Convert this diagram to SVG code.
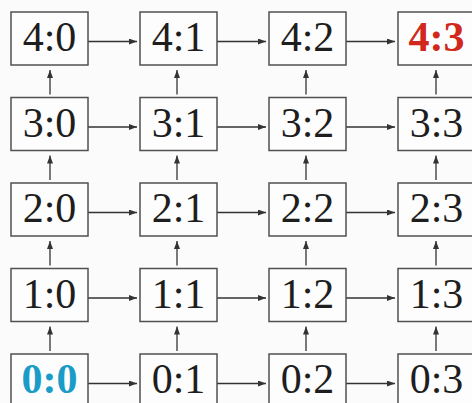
<svg xmlns="http://www.w3.org/2000/svg" width="472" height="403" viewBox="0 0 472 403">
<style>
.b{fill:#fdfdfd;stroke:#505050;stroke-width:1.5}
.t{font-family:"Liberation Serif",serif;font-size:42px;fill:#1e1e1e;text-anchor:middle}
.c line{stroke:#333;stroke-width:1.3;marker-end:url(#a)}
</style>
<defs><marker id="a" viewBox="0 0 8 6" refX="8" refY="3" markerWidth="8" markerHeight="6" markerUnits="userSpaceOnUse" orient="auto"><path d="M0,0L8,3L0,6z" fill="#333"/></marker></defs>
<rect width="472" height="403" fill="#fbfbfb"/>
<g class="c">
<line x1="88" y1="41.5" x2="137" y2="41.5"/><line x1="217" y1="41.5" x2="266" y2="41.5"/><line x1="346" y1="41.5" x2="395" y2="41.5"/>
<line x1="88" y1="127" x2="137" y2="127"/><line x1="217" y1="127" x2="266" y2="127"/><line x1="346" y1="127" x2="395" y2="127"/>
<line x1="88" y1="212.5" x2="137" y2="212.5"/><line x1="217" y1="212.5" x2="266" y2="212.5"/><line x1="346" y1="212.5" x2="395" y2="212.5"/>
<line x1="88" y1="298" x2="137" y2="298"/><line x1="217" y1="298" x2="266" y2="298"/><line x1="346" y1="298" x2="395" y2="298"/>
<line x1="88" y1="383.5" x2="137" y2="383.5"/><line x1="217" y1="383.5" x2="266" y2="383.5"/><line x1="346" y1="383.5" x2="395" y2="383.5"/>
<line x1="50" y1="94.5" x2="50" y2="70"/><line x1="177" y1="94.5" x2="177" y2="70"/><line x1="306" y1="94.5" x2="306" y2="70"/><line x1="436" y1="94.5" x2="436" y2="70"/>
<line x1="50" y1="180" x2="50" y2="155.5"/><line x1="177" y1="180" x2="177" y2="155.5"/><line x1="306" y1="180" x2="306" y2="155.5"/><line x1="436" y1="180" x2="436" y2="155.5"/>
<line x1="50" y1="265.5" x2="50" y2="241"/><line x1="177" y1="265.5" x2="177" y2="241"/><line x1="306" y1="265.5" x2="306" y2="241"/><line x1="436" y1="265.5" x2="436" y2="241"/>
<line x1="50" y1="351" x2="50" y2="326.5"/><line x1="177" y1="351" x2="177" y2="326.5"/><line x1="306" y1="351" x2="306" y2="326.5"/><line x1="436" y1="351" x2="436" y2="326.5"/>
</g>
<g id="n40"><rect class="b" x="11" y="12" width="77" height="53"/><text class="t" x="49.5" y="51">4:0</text></g>
<g id="n41"><rect class="b" x="140" y="12" width="77" height="53"/><text class="t" x="178.5" y="51">4:1</text></g>
<g id="n42"><rect class="b" x="269" y="12" width="77" height="53"/><text class="t" x="307.5" y="51">4:2</text></g>
<g id="n43"><rect class="b" x="398" y="12" width="77" height="53"/><text class="t" x="436.5" y="51" style="fill:#d0281c;font-weight:bold">4:3</text></g>
<g id="n30"><rect class="b" x="11" y="97.5" width="77" height="53"/><text class="t" x="49.5" y="136.5">3:0</text></g>
<g id="n31"><rect class="b" x="140" y="97.5" width="77" height="53"/><text class="t" x="178.5" y="136.5">3:1</text></g>
<g id="n32"><rect class="b" x="269" y="97.5" width="77" height="53"/><text class="t" x="307.5" y="136.5">3:2</text></g>
<g id="n33"><rect class="b" x="398" y="97.5" width="77" height="53"/><text class="t" x="436.5" y="136.5">3:3</text></g>
<g id="n20"><rect class="b" x="11" y="183" width="77" height="53"/><text class="t" x="49.5" y="222">2:0</text></g>
<g id="n21"><rect class="b" x="140" y="183" width="77" height="53"/><text class="t" x="178.5" y="222">2:1</text></g>
<g id="n22"><rect class="b" x="269" y="183" width="77" height="53"/><text class="t" x="307.5" y="222">2:2</text></g>
<g id="n23"><rect class="b" x="398" y="183" width="77" height="53"/><text class="t" x="436.5" y="222">2:3</text></g>
<g id="n10"><rect class="b" x="11" y="268.5" width="77" height="53"/><text class="t" x="49.5" y="307.5">1:0</text></g>
<g id="n11"><rect class="b" x="140" y="268.5" width="77" height="53"/><text class="t" x="178.5" y="307.5">1:1</text></g>
<g id="n12"><rect class="b" x="269" y="268.5" width="77" height="53"/><text class="t" x="307.5" y="307.5">1:2</text></g>
<g id="n13"><rect class="b" x="398" y="268.5" width="77" height="53"/><text class="t" x="436.5" y="307.5">1:3</text></g>
<g id="n00"><rect class="b" x="11" y="354" width="77" height="53"/><text class="t" x="49.5" y="393" style="fill:#1a9cc8;font-weight:bold">0:0</text></g>
<g id="n01"><rect class="b" x="140" y="354" width="77" height="53"/><text class="t" x="178.5" y="393">0:1</text></g>
<g id="n02"><rect class="b" x="269" y="354" width="77" height="53"/><text class="t" x="307.5" y="393">0:2</text></g>
<g id="n03"><rect class="b" x="398" y="354" width="77" height="53"/><text class="t" x="436.5" y="393">0:3</text></g>
</svg>
